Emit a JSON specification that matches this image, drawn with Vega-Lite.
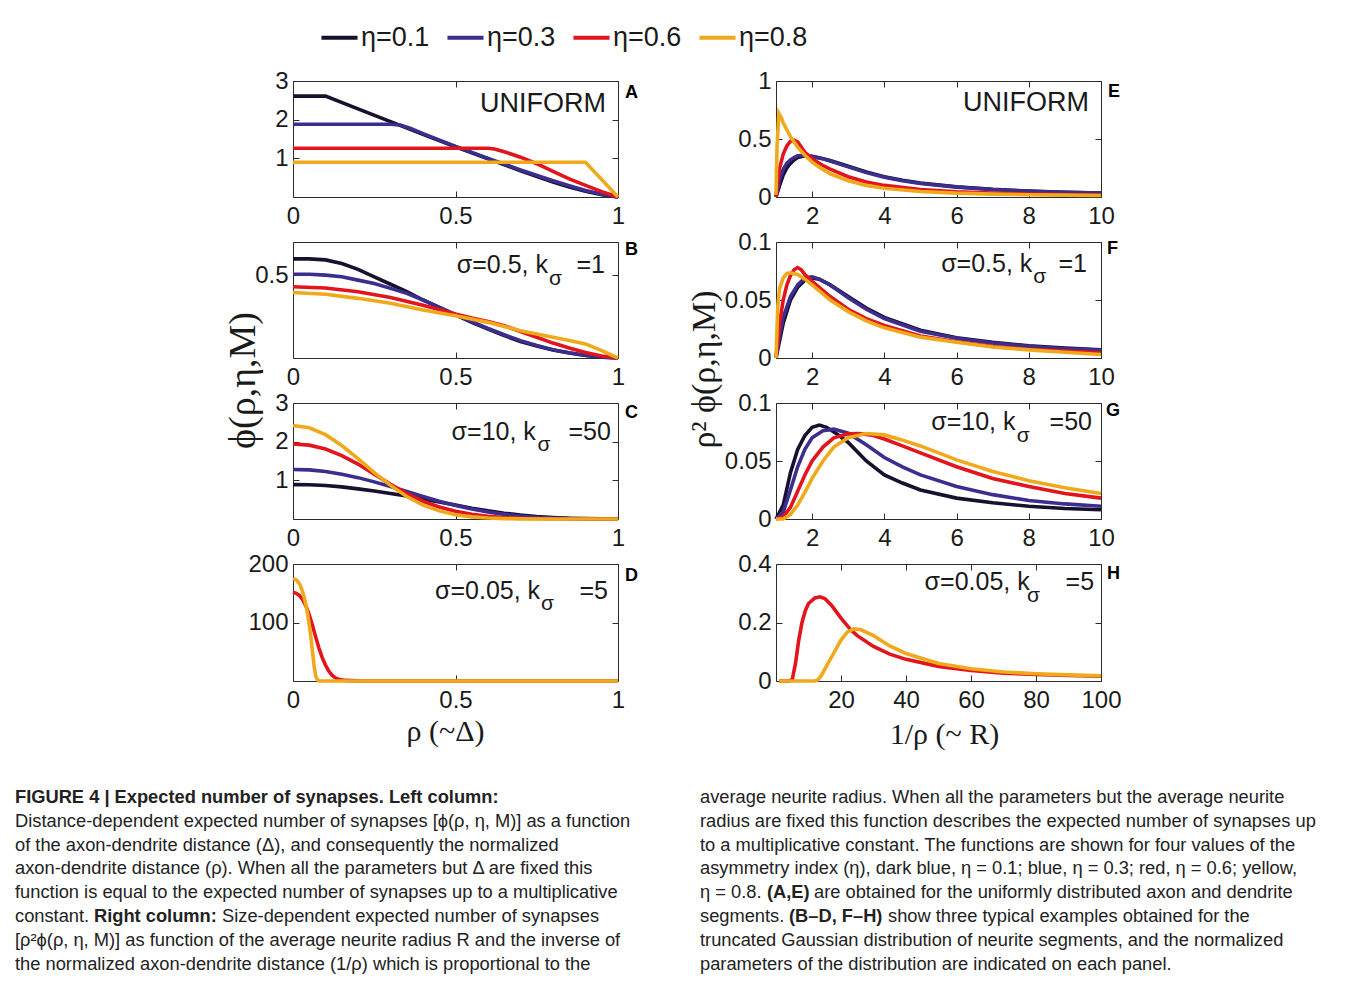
{
  "$schema": "https://vega.github.io/schema/vega-lite/v6.json",
  "background": "white",
  "padding": {"left": 15, "top": 17, "right": 5, "bottom": 5},
  "datasets": {
    "A": [
      {"eta":"η=0.1","x":0,"y":2.61},{"eta":"η=0.1","x":0.1,"y":2.61},{"eta":"η=0.1","x":0.2,"y":2.28},{"eta":"η=0.1","x":0.3,"y":1.95},{"eta":"η=0.1","x":0.4,"y":1.62},{"eta":"η=0.1","x":0.5,"y":1.3},{"eta":"η=0.1","x":0.6,"y":0.99},{"eta":"η=0.1","x":0.7,"y":0.68},{"eta":"η=0.1","x":0.8,"y":0.39},{"eta":"η=0.1","x":0.85,"y":0.26},{"eta":"η=0.1","x":0.9,"y":0.15},{"eta":"η=0.1","x":0.95,"y":0.06},{"eta":"η=0.1","x":1,"y":0},
      {"eta":"η=0.3","x":0,"y":1.88},{"eta":"η=0.3","x":0.3,"y":1.88},{"eta":"η=0.3","x":0.33,"y":1.86},{"eta":"η=0.3","x":0.36,"y":1.78},{"eta":"η=0.3","x":0.4,"y":1.64},{"eta":"η=0.3","x":0.5,"y":1.31},{"eta":"η=0.3","x":0.6,"y":1.0},{"eta":"η=0.3","x":0.7,"y":0.7},{"eta":"η=0.3","x":0.8,"y":0.42},{"eta":"η=0.3","x":0.85,"y":0.29},{"eta":"η=0.3","x":0.9,"y":0.17},{"eta":"η=0.3","x":0.95,"y":0.07},{"eta":"η=0.3","x":1,"y":0},
      {"eta":"η=0.6","x":0,"y":1.26},{"eta":"η=0.6","x":0.6,"y":1.26},{"eta":"η=0.6","x":0.62,"y":1.24},{"eta":"η=0.6","x":0.65,"y":1.17},{"eta":"η=0.6","x":0.7,"y":1.03},{"eta":"η=0.6","x":0.75,"y":0.86},{"eta":"η=0.6","x":0.8,"y":0.66},{"eta":"η=0.6","x":0.85,"y":0.47},{"eta":"η=0.6","x":0.9,"y":0.3},{"eta":"η=0.6","x":0.95,"y":0.14},{"eta":"η=0.6","x":1,"y":0},
      {"eta":"η=0.8","x":0,"y":0.9},{"eta":"η=0.8","x":0.9,"y":0.9},{"eta":"η=0.8","x":1,"y":0}
    ],
    "B": [
      {"eta":"η=0.1","x":0,"y":0.598},{"eta":"η=0.1","x":0.05,"y":0.598},{"eta":"η=0.1","x":0.1,"y":0.592},{"eta":"η=0.1","x":0.15,"y":0.57},{"eta":"η=0.1","x":0.2,"y":0.535},{"eta":"η=0.1","x":0.25,"y":0.49},{"eta":"η=0.1","x":0.3,"y":0.445},{"eta":"η=0.1","x":0.35,"y":0.4},{"eta":"η=0.1","x":0.4,"y":0.35},{"eta":"η=0.1","x":0.45,"y":0.305},{"eta":"η=0.1","x":0.5,"y":0.26},{"eta":"η=0.1","x":0.55,"y":0.215},{"eta":"η=0.1","x":0.6,"y":0.175},{"eta":"η=0.1","x":0.65,"y":0.135},{"eta":"η=0.1","x":0.7,"y":0.1},{"eta":"η=0.1","x":0.75,"y":0.072},{"eta":"η=0.1","x":0.8,"y":0.048},{"eta":"η=0.1","x":0.85,"y":0.03},{"eta":"η=0.1","x":0.9,"y":0.015},{"eta":"η=0.1","x":0.95,"y":0.005},{"eta":"η=0.1","x":1,"y":0},
      {"eta":"η=0.3","x":0,"y":0.505},{"eta":"η=0.3","x":0.05,"y":0.505},{"eta":"η=0.3","x":0.1,"y":0.5},{"eta":"η=0.3","x":0.15,"y":0.49},{"eta":"η=0.3","x":0.2,"y":0.47},{"eta":"η=0.3","x":0.25,"y":0.45},{"eta":"η=0.3","x":0.3,"y":0.42},{"eta":"η=0.3","x":0.35,"y":0.39},{"eta":"η=0.3","x":0.4,"y":0.35},{"eta":"η=0.3","x":0.45,"y":0.305},{"eta":"η=0.3","x":0.5,"y":0.262},{"eta":"η=0.3","x":0.55,"y":0.22},{"eta":"η=0.3","x":0.6,"y":0.178},{"eta":"η=0.3","x":0.65,"y":0.14},{"eta":"η=0.3","x":0.7,"y":0.105},{"eta":"η=0.3","x":0.75,"y":0.075},{"eta":"η=0.3","x":0.8,"y":0.05},{"eta":"η=0.3","x":0.85,"y":0.032},{"eta":"η=0.3","x":0.9,"y":0.017},{"eta":"η=0.3","x":0.95,"y":0.006},{"eta":"η=0.3","x":1,"y":0},
      {"eta":"η=0.6","x":0,"y":0.43},{"eta":"η=0.6","x":0.1,"y":0.422},{"eta":"η=0.6","x":0.2,"y":0.4},{"eta":"η=0.6","x":0.3,"y":0.365},{"eta":"η=0.6","x":0.4,"y":0.318},{"eta":"η=0.6","x":0.5,"y":0.265},{"eta":"η=0.6","x":0.55,"y":0.242},{"eta":"η=0.6","x":0.6,"y":0.22},{"eta":"η=0.6","x":0.65,"y":0.195},{"eta":"η=0.6","x":0.7,"y":0.16},{"eta":"η=0.6","x":0.75,"y":0.125},{"eta":"η=0.6","x":0.8,"y":0.09},{"eta":"η=0.6","x":0.85,"y":0.06},{"eta":"η=0.6","x":0.9,"y":0.033},{"eta":"η=0.6","x":0.95,"y":0.012},{"eta":"η=0.6","x":1,"y":0},
      {"eta":"η=0.8","x":0,"y":0.395},{"eta":"η=0.8","x":0.1,"y":0.385},{"eta":"η=0.8","x":0.2,"y":0.36},{"eta":"η=0.8","x":0.3,"y":0.33},{"eta":"η=0.8","x":0.4,"y":0.29},{"eta":"η=0.8","x":0.5,"y":0.255},{"eta":"η=0.8","x":0.6,"y":0.215},{"eta":"η=0.8","x":0.65,"y":0.19},{"eta":"η=0.8","x":0.7,"y":0.165},{"eta":"η=0.8","x":0.75,"y":0.145},{"eta":"η=0.8","x":0.8,"y":0.125},{"eta":"η=0.8","x":0.85,"y":0.105},{"eta":"η=0.8","x":0.9,"y":0.085},{"eta":"η=0.8","x":0.95,"y":0.045},{"eta":"η=0.8","x":1,"y":0}
    ],
    "C": [
      {"eta":"η=0.1","x":0,"y":0.89},{"eta":"η=0.1","x":0.05,"y":0.885},{"eta":"η=0.1","x":0.1,"y":0.865},{"eta":"η=0.1","x":0.15,"y":0.83},{"eta":"η=0.1","x":0.2,"y":0.78},{"eta":"η=0.1","x":0.25,"y":0.725},{"eta":"η=0.1","x":0.3,"y":0.66},{"eta":"η=0.1","x":0.35,"y":0.595},{"eta":"η=0.1","x":0.4,"y":0.52},{"eta":"η=0.1","x":0.45,"y":0.44},{"eta":"η=0.1","x":0.5,"y":0.36},{"eta":"η=0.1","x":0.55,"y":0.28},{"eta":"η=0.1","x":0.6,"y":0.21},{"eta":"η=0.1","x":0.65,"y":0.15},{"eta":"η=0.1","x":0.7,"y":0.1},{"eta":"η=0.1","x":0.75,"y":0.065},{"eta":"η=0.1","x":0.8,"y":0.04},{"eta":"η=0.1","x":0.85,"y":0.02},{"eta":"η=0.1","x":0.9,"y":0.01},{"eta":"η=0.1","x":1,"y":0},
      {"eta":"η=0.3","x":0,"y":1.28},{"eta":"η=0.3","x":0.05,"y":1.27},{"eta":"η=0.3","x":0.1,"y":1.23},{"eta":"η=0.3","x":0.15,"y":1.16},{"eta":"η=0.3","x":0.2,"y":1.07},{"eta":"η=0.3","x":0.25,"y":0.96},{"eta":"η=0.3","x":0.3,"y":0.84},{"eta":"η=0.3","x":0.35,"y":0.71},{"eta":"η=0.3","x":0.4,"y":0.58},{"eta":"η=0.3","x":0.45,"y":0.46},{"eta":"η=0.3","x":0.5,"y":0.35},{"eta":"η=0.3","x":0.55,"y":0.26},{"eta":"η=0.3","x":0.6,"y":0.18},{"eta":"η=0.3","x":0.65,"y":0.12},{"eta":"η=0.3","x":0.7,"y":0.075},{"eta":"η=0.3","x":0.75,"y":0.045},{"eta":"η=0.3","x":0.8,"y":0.025},{"eta":"η=0.3","x":0.9,"y":0.008},{"eta":"η=0.3","x":1,"y":0},
      {"eta":"η=0.6","x":0,"y":1.94},{"eta":"η=0.6","x":0.05,"y":1.91},{"eta":"η=0.6","x":0.1,"y":1.81},{"eta":"η=0.6","x":0.15,"y":1.64},{"eta":"η=0.6","x":0.2,"y":1.42},{"eta":"η=0.6","x":0.25,"y":1.16},{"eta":"η=0.6","x":0.3,"y":0.9},{"eta":"η=0.6","x":0.35,"y":0.66},{"eta":"η=0.6","x":0.4,"y":0.46},{"eta":"η=0.6","x":0.45,"y":0.31},{"eta":"η=0.6","x":0.5,"y":0.2},{"eta":"η=0.6","x":0.55,"y":0.12},{"eta":"η=0.6","x":0.6,"y":0.07},{"eta":"η=0.6","x":0.65,"y":0.04},{"eta":"η=0.6","x":0.7,"y":0.02},{"eta":"η=0.6","x":0.8,"y":0.005},{"eta":"η=0.6","x":1,"y":0},
      {"eta":"η=0.8","x":0,"y":2.42},{"eta":"η=0.8","x":0.05,"y":2.36},{"eta":"η=0.8","x":0.1,"y":2.18},{"eta":"η=0.8","x":0.15,"y":1.9},{"eta":"η=0.8","x":0.2,"y":1.56},{"eta":"η=0.8","x":0.25,"y":1.2},{"eta":"η=0.8","x":0.3,"y":0.87},{"eta":"η=0.8","x":0.35,"y":0.58},{"eta":"η=0.8","x":0.4,"y":0.36},{"eta":"η=0.8","x":0.45,"y":0.21},{"eta":"η=0.8","x":0.5,"y":0.11},{"eta":"η=0.8","x":0.55,"y":0.055},{"eta":"η=0.8","x":0.6,"y":0.025},{"eta":"η=0.8","x":0.65,"y":0.01},{"eta":"η=0.8","x":0.7,"y":0.004},{"eta":"η=0.8","x":0.8,"y":0},{"eta":"η=0.8","x":1,"y":0}
    ],
    "D": [
      {"eta":"η=0.6","x":0,"y":152},{"eta":"η=0.6","x":0.01,"y":150},{"eta":"η=0.6","x":0.02,"y":146},{"eta":"η=0.6","x":0.03,"y":139},{"eta":"η=0.6","x":0.04,"y":128},{"eta":"η=0.6","x":0.05,"y":113},{"eta":"η=0.6","x":0.06,"y":95},{"eta":"η=0.6","x":0.07,"y":75},{"eta":"η=0.6","x":0.08,"y":56},{"eta":"η=0.6","x":0.09,"y":40},{"eta":"η=0.6","x":0.1,"y":27},{"eta":"η=0.6","x":0.11,"y":17},{"eta":"η=0.6","x":0.12,"y":10},{"eta":"η=0.6","x":0.13,"y":5.5},{"eta":"η=0.6","x":0.14,"y":3},{"eta":"η=0.6","x":0.16,"y":1},{"eta":"η=0.6","x":0.2,"y":0.2},{"eta":"η=0.6","x":0.3,"y":0},{"eta":"η=0.6","x":1,"y":0},
      {"eta":"η=0.8","x":0,"y":175},{"eta":"η=0.8","x":0.01,"y":173},{"eta":"η=0.8","x":0.02,"y":166},{"eta":"η=0.8","x":0.03,"y":152},{"eta":"η=0.8","x":0.04,"y":130},{"eta":"η=0.8","x":0.045,"y":114},{"eta":"η=0.8","x":0.05,"y":96},{"eta":"η=0.8","x":0.055,"y":75},{"eta":"η=0.8","x":0.06,"y":50},{"eta":"η=0.8","x":0.065,"y":25},{"eta":"η=0.8","x":0.07,"y":8},{"eta":"η=0.8","x":0.075,"y":2},{"eta":"η=0.8","x":0.08,"y":0},{"eta":"η=0.8","x":1,"y":0}
    ],
    "E": [
      {"eta":"η=0.1","x":1,"y":0},{"eta":"η=0.1","x":1.1,"y":0.1},{"eta":"η=0.1","x":1.2,"y":0.19},{"eta":"η=0.1","x":1.3,"y":0.25},{"eta":"η=0.1","x":1.4,"y":0.29},{"eta":"η=0.1","x":1.5,"y":0.32},{"eta":"η=0.1","x":1.6,"y":0.34},{"eta":"η=0.1","x":1.8,"y":0.355},{"eta":"η=0.1","x":2,"y":0.35},{"eta":"η=0.1","x":2.25,"y":0.335},{"eta":"η=0.1","x":2.5,"y":0.315},{"eta":"η=0.1","x":3,"y":0.265},{"eta":"η=0.1","x":3.5,"y":0.215},{"eta":"η=0.1","x":4,"y":0.175},{"eta":"η=0.1","x":4.5,"y":0.145},{"eta":"η=0.1","x":5,"y":0.12},{"eta":"η=0.1","x":6,"y":0.088},{"eta":"η=0.1","x":7,"y":0.066},{"eta":"η=0.1","x":8,"y":0.051},{"eta":"η=0.1","x":9,"y":0.041},{"eta":"η=0.1","x":10,"y":0.034},
      {"eta":"η=0.3","x":1,"y":0},{"eta":"η=0.3","x":1.1,"y":0.15},{"eta":"η=0.3","x":1.2,"y":0.24},{"eta":"η=0.3","x":1.3,"y":0.29},{"eta":"η=0.3","x":1.4,"y":0.32},{"eta":"η=0.3","x":1.5,"y":0.34},{"eta":"η=0.3","x":1.6,"y":0.355},{"eta":"η=0.3","x":1.8,"y":0.36},{"eta":"η=0.3","x":2,"y":0.35},{"eta":"η=0.3","x":2.25,"y":0.333},{"eta":"η=0.3","x":2.5,"y":0.31},{"eta":"η=0.3","x":3,"y":0.26},{"eta":"η=0.3","x":3.5,"y":0.21},{"eta":"η=0.3","x":4,"y":0.17},{"eta":"η=0.3","x":4.5,"y":0.14},{"eta":"η=0.3","x":5,"y":0.117},{"eta":"η=0.3","x":6,"y":0.085},{"eta":"η=0.3","x":7,"y":0.064},{"eta":"η=0.3","x":8,"y":0.05},{"eta":"η=0.3","x":9,"y":0.04},{"eta":"η=0.3","x":10,"y":0.033},
      {"eta":"η=0.6","x":1,"y":0},{"eta":"η=0.6","x":1.05,"y":0.15},{"eta":"η=0.6","x":1.1,"y":0.25},{"eta":"η=0.6","x":1.2,"y":0.37},{"eta":"η=0.6","x":1.3,"y":0.44},{"eta":"η=0.6","x":1.4,"y":0.48},{"eta":"η=0.6","x":1.5,"y":0.49},{"eta":"η=0.6","x":1.6,"y":0.475},{"eta":"η=0.6","x":1.7,"y":0.43},{"eta":"η=0.6","x":1.8,"y":0.385},{"eta":"η=0.6","x":2,"y":0.33},{"eta":"η=0.6","x":2.25,"y":0.28},{"eta":"η=0.6","x":2.5,"y":0.24},{"eta":"η=0.6","x":3,"y":0.175},{"eta":"η=0.6","x":3.5,"y":0.13},{"eta":"η=0.6","x":4,"y":0.1},{"eta":"η=0.6","x":5,"y":0.065},{"eta":"η=0.6","x":6,"y":0.045},{"eta":"η=0.6","x":7,"y":0.034},{"eta":"η=0.6","x":8,"y":0.026},{"eta":"η=0.6","x":9,"y":0.021},{"eta":"η=0.6","x":10,"y":0.017},
      {"eta":"η=0.8","x":1,"y":0.02},{"eta":"η=0.8","x":1.03,"y":0.45},{"eta":"η=0.8","x":1.08,"y":0.72},{"eta":"η=0.8","x":1.15,"y":0.68},{"eta":"η=0.8","x":1.2,"y":0.64},{"eta":"η=0.8","x":1.3,"y":0.58},{"eta":"η=0.8","x":1.4,"y":0.52},{"eta":"η=0.8","x":1.6,"y":0.43},{"eta":"η=0.8","x":1.8,"y":0.36},{"eta":"η=0.8","x":2,"y":0.3},{"eta":"η=0.8","x":2.25,"y":0.245},{"eta":"η=0.8","x":2.5,"y":0.2},{"eta":"η=0.8","x":3,"y":0.14},{"eta":"η=0.8","x":3.5,"y":0.1},{"eta":"η=0.8","x":4,"y":0.075},{"eta":"η=0.8","x":5,"y":0.048},{"eta":"η=0.8","x":6,"y":0.033},{"eta":"η=0.8","x":7,"y":0.025},{"eta":"η=0.8","x":8,"y":0.02},{"eta":"η=0.8","x":9,"y":0.016},{"eta":"η=0.8","x":10,"y":0.013}
    ],
    "F": [
      {"eta":"η=0.1","x":1,"y":0},{"eta":"η=0.1","x":1.1,"y":0.015},{"eta":"η=0.1","x":1.2,"y":0.03},{"eta":"η=0.1","x":1.4,"y":0.05},{"eta":"η=0.1","x":1.6,"y":0.061},{"eta":"η=0.1","x":1.8,"y":0.067},{"eta":"η=0.1","x":2,"y":0.069},{"eta":"η=0.1","x":2.2,"y":0.068},{"eta":"η=0.1","x":2.5,"y":0.063},{"eta":"η=0.1","x":3,"y":0.053},{"eta":"η=0.1","x":3.5,"y":0.043},{"eta":"η=0.1","x":4,"y":0.035},{"eta":"η=0.1","x":5,"y":0.024},{"eta":"η=0.1","x":6,"y":0.0175},{"eta":"η=0.1","x":7,"y":0.0135},{"eta":"η=0.1","x":8,"y":0.0105},{"eta":"η=0.1","x":9,"y":0.0085},{"eta":"η=0.1","x":10,"y":0.007},
      {"eta":"η=0.3","x":1,"y":0},{"eta":"η=0.3","x":1.1,"y":0.02},{"eta":"η=0.3","x":1.2,"y":0.035},{"eta":"η=0.3","x":1.4,"y":0.053},{"eta":"η=0.3","x":1.6,"y":0.063},{"eta":"η=0.3","x":1.8,"y":0.069},{"eta":"η=0.3","x":2,"y":0.07},{"eta":"η=0.3","x":2.2,"y":0.068},{"eta":"η=0.3","x":2.5,"y":0.063},{"eta":"η=0.3","x":3,"y":0.052},{"eta":"η=0.3","x":3.5,"y":0.042},{"eta":"η=0.3","x":4,"y":0.034},{"eta":"η=0.3","x":5,"y":0.023},{"eta":"η=0.3","x":6,"y":0.017},{"eta":"η=0.3","x":7,"y":0.013},{"eta":"η=0.3","x":8,"y":0.01},{"eta":"η=0.3","x":9,"y":0.008},{"eta":"η=0.3","x":10,"y":0.0068},
      {"eta":"η=0.6","x":1,"y":0},{"eta":"η=0.6","x":1.1,"y":0.03},{"eta":"η=0.6","x":1.2,"y":0.05},{"eta":"η=0.6","x":1.3,"y":0.063},{"eta":"η=0.6","x":1.4,"y":0.071},{"eta":"η=0.6","x":1.5,"y":0.076},{"eta":"η=0.6","x":1.6,"y":0.078},{"eta":"η=0.6","x":1.7,"y":0.076},{"eta":"η=0.6","x":1.8,"y":0.072},{"eta":"η=0.6","x":2,"y":0.066},{"eta":"η=0.6","x":2.5,"y":0.053},{"eta":"η=0.6","x":3,"y":0.042},{"eta":"η=0.6","x":3.5,"y":0.034},{"eta":"η=0.6","x":4,"y":0.028},{"eta":"η=0.6","x":5,"y":0.019},{"eta":"η=0.6","x":6,"y":0.014},{"eta":"η=0.6","x":7,"y":0.01},{"eta":"η=0.6","x":8,"y":0.0075},{"eta":"η=0.6","x":9,"y":0.006},{"eta":"η=0.6","x":10,"y":0.0045},
      {"eta":"η=0.8","x":1,"y":0},{"eta":"η=0.8","x":1.05,"y":0.045},{"eta":"η=0.8","x":1.1,"y":0.06},{"eta":"η=0.8","x":1.2,"y":0.069},{"eta":"η=0.8","x":1.3,"y":0.073},{"eta":"η=0.8","x":1.4,"y":0.0735},{"eta":"η=0.8","x":1.6,"y":0.072},{"eta":"η=0.8","x":1.8,"y":0.068},{"eta":"η=0.8","x":2,"y":0.063},{"eta":"η=0.8","x":2.5,"y":0.05},{"eta":"η=0.8","x":3,"y":0.04},{"eta":"η=0.8","x":3.5,"y":0.032},{"eta":"η=0.8","x":4,"y":0.026},{"eta":"η=0.8","x":5,"y":0.018},{"eta":"η=0.8","x":6,"y":0.0135},{"eta":"η=0.8","x":7,"y":0.0095},{"eta":"η=0.8","x":8,"y":0.007},{"eta":"η=0.8","x":9,"y":0.005},{"eta":"η=0.8","x":10,"y":0.003}
    ],
    "G": [
      {"eta":"η=0.1","x":1,"y":0},{"eta":"η=0.1","x":1.2,"y":0.012},{"eta":"η=0.1","x":1.4,"y":0.04},{"eta":"η=0.1","x":1.6,"y":0.06},{"eta":"η=0.1","x":1.8,"y":0.072},{"eta":"η=0.1","x":2,"y":0.079},{"eta":"η=0.1","x":2.2,"y":0.081},{"eta":"η=0.1","x":2.4,"y":0.079},{"eta":"η=0.1","x":2.7,"y":0.073},{"eta":"η=0.1","x":3,"y":0.066},{"eta":"η=0.1","x":3.5,"y":0.05},{"eta":"η=0.1","x":4,"y":0.038},{"eta":"η=0.1","x":4.5,"y":0.031},{"eta":"η=0.1","x":5,"y":0.025},{"eta":"η=0.1","x":6,"y":0.018},{"eta":"η=0.1","x":7,"y":0.014},{"eta":"η=0.1","x":8,"y":0.011},{"eta":"η=0.1","x":9,"y":0.009},{"eta":"η=0.1","x":10,"y":0.008},
      {"eta":"η=0.3","x":1,"y":0},{"eta":"η=0.3","x":1.2,"y":0.006},{"eta":"η=0.3","x":1.4,"y":0.025},{"eta":"η=0.3","x":1.6,"y":0.045},{"eta":"η=0.3","x":1.8,"y":0.06},{"eta":"η=0.3","x":2,"y":0.07},{"eta":"η=0.3","x":2.3,"y":0.076},{"eta":"η=0.3","x":2.6,"y":0.0775},{"eta":"η=0.3","x":3,"y":0.074},{"eta":"η=0.3","x":3.5,"y":0.064},{"eta":"η=0.3","x":4,"y":0.053},{"eta":"η=0.3","x":4.5,"y":0.045},{"eta":"η=0.3","x":5,"y":0.038},{"eta":"η=0.3","x":6,"y":0.028},{"eta":"η=0.3","x":7,"y":0.021},{"eta":"η=0.3","x":8,"y":0.016},{"eta":"η=0.3","x":9,"y":0.013},{"eta":"η=0.3","x":10,"y":0.011},
      {"eta":"η=0.6","x":1,"y":0},{"eta":"η=0.6","x":1.2,"y":0.002},{"eta":"η=0.6","x":1.4,"y":0.01},{"eta":"η=0.6","x":1.6,"y":0.024},{"eta":"η=0.6","x":1.8,"y":0.038},{"eta":"η=0.6","x":2,"y":0.05},{"eta":"η=0.6","x":2.3,"y":0.062},{"eta":"η=0.6","x":2.6,"y":0.07},{"eta":"η=0.6","x":3,"y":0.0735},{"eta":"η=0.6","x":3.3,"y":0.0737},{"eta":"η=0.6","x":3.7,"y":0.072},{"eta":"η=0.6","x":4,"y":0.069},{"eta":"η=0.6","x":4.5,"y":0.063},{"eta":"η=0.6","x":5,"y":0.057},{"eta":"η=0.6","x":6,"y":0.045},{"eta":"η=0.6","x":7,"y":0.035},{"eta":"η=0.6","x":8,"y":0.028},{"eta":"η=0.6","x":9,"y":0.022},{"eta":"η=0.6","x":10,"y":0.018},
      {"eta":"η=0.8","x":1,"y":0},{"eta":"η=0.8","x":1.2,"y":0},{"eta":"η=0.8","x":1.4,"y":0.004},{"eta":"η=0.8","x":1.6,"y":0.012},{"eta":"η=0.8","x":1.8,"y":0.023},{"eta":"η=0.8","x":2,"y":0.035},{"eta":"η=0.8","x":2.3,"y":0.05},{"eta":"η=0.8","x":2.6,"y":0.062},{"eta":"η=0.8","x":3,"y":0.07},{"eta":"η=0.8","x":3.5,"y":0.0737},{"eta":"η=0.8","x":4,"y":0.0725},{"eta":"η=0.8","x":4.5,"y":0.068},{"eta":"η=0.8","x":5,"y":0.063},{"eta":"η=0.8","x":6,"y":0.051},{"eta":"η=0.8","x":7,"y":0.041},{"eta":"η=0.8","x":8,"y":0.033},{"eta":"η=0.8","x":9,"y":0.027},{"eta":"η=0.8","x":10,"y":0.022}
    ],
    "H": [
      {"eta":"η=0.6","x":1,"y":0},{"eta":"η=0.6","x":4,"y":0},{"eta":"η=0.6","x":5,"y":0.005},{"eta":"η=0.6","x":6,"y":0.06},{"eta":"η=0.6","x":7,"y":0.14},{"eta":"η=0.6","x":8,"y":0.2},{"eta":"η=0.6","x":9,"y":0.24},{"eta":"η=0.6","x":10,"y":0.265},{"eta":"η=0.6","x":12,"y":0.284},{"eta":"η=0.6","x":13.5,"y":0.288},{"eta":"η=0.6","x":15,"y":0.282},{"eta":"η=0.6","x":17,"y":0.26},{"eta":"η=0.6","x":20,"y":0.215},{"eta":"η=0.6","x":23,"y":0.175},{"eta":"η=0.6","x":25,"y":0.155},{"eta":"η=0.6","x":30,"y":0.118},{"eta":"η=0.6","x":35,"y":0.092},{"eta":"η=0.6","x":40,"y":0.074},{"eta":"η=0.6","x":50,"y":0.05},{"eta":"η=0.6","x":60,"y":0.036},{"eta":"η=0.6","x":70,"y":0.027},{"eta":"η=0.6","x":80,"y":0.022},{"eta":"η=0.6","x":90,"y":0.019},{"eta":"η=0.6","x":100,"y":0.016},
      {"eta":"η=0.8","x":1,"y":0},{"eta":"η=0.8","x":12,"y":0},{"eta":"η=0.8","x":13,"y":0.005},{"eta":"η=0.8","x":14,"y":0.02},{"eta":"η=0.8","x":16,"y":0.06},{"eta":"η=0.8","x":18,"y":0.1},{"eta":"η=0.8","x":20,"y":0.14},{"eta":"η=0.8","x":22,"y":0.168},{"eta":"η=0.8","x":24,"y":0.178},{"eta":"η=0.8","x":26,"y":0.176},{"eta":"η=0.8","x":30,"y":0.155},{"eta":"η=0.8","x":35,"y":0.12},{"eta":"η=0.8","x":40,"y":0.094},{"eta":"η=0.8","x":50,"y":0.06},{"eta":"η=0.8","x":60,"y":0.042},{"eta":"η=0.8","x":70,"y":0.031},{"eta":"η=0.8","x":80,"y":0.025},{"eta":"η=0.8","x":90,"y":0.021},{"eta":"η=0.8","x":100,"y":0.018}
    ],
    "caption": [
      {"col":"L","line":1,"frag":"A","text":"FIGURE 4 | Expected number of synapses. Left column:"},
      {"col":"L","line":2,"frag":"a","text":"Distance-dependent expected number of synapses [ϕ(ρ, η, M)] as a function"},
      {"col":"L","line":3,"frag":"a","text":"of the axon-dendrite distance (Δ), and consequently the normalized"},
      {"col":"L","line":4,"frag":"a","text":"axon-dendrite distance (ρ). When all the parameters but Δ are fixed this"},
      {"col":"L","line":5,"frag":"a","text":"function is equal to the expected number of synapses up to a multiplicative"},
      {"col":"L","line":6,"frag":"a","text":"constant."},
      {"col":"L","line":6,"frag":"L6b","text":"Right column:"},
      {"col":"L","line":6,"frag":"L6c","text":"Size-dependent expected number of synapses"},
      {"col":"L","line":7,"frag":"a","text":"[ρ²ϕ(ρ, η, M)] as function of the average neurite radius R and the inverse of"},
      {"col":"L","line":8,"frag":"a","text":"the normalized axon-dendrite distance (1/ρ) which is proportional to the"},
      {"col":"R","line":1,"frag":"a","text":"average neurite radius. When all the parameters but the average neurite"},
      {"col":"R","line":2,"frag":"a","text":"radius are fixed this function describes the expected number of synapses up"},
      {"col":"R","line":3,"frag":"a","text":"to a multiplicative constant. The functions are shown for four values of the"},
      {"col":"R","line":4,"frag":"a","text":"asymmetry index (η), dark blue, η = 0.1; blue, η = 0.3; red, η = 0.6; yellow,"},
      {"col":"R","line":5,"frag":"a","text":"η = 0.8."},
      {"col":"R","line":5,"frag":"R5b","text":"(A,E)"},
      {"col":"R","line":5,"frag":"R5c","text":"are obtained for the uniformly distributed axon and dendrite"},
      {"col":"R","line":6,"frag":"a","text":"segments."},
      {"col":"R","line":6,"frag":"R6b","text":"(B–D, F–H)"},
      {"col":"R","line":6,"frag":"R6c","text":"show three typical examples obtained for the"},
      {"col":"R","line":7,"frag":"a","text":"truncated Gaussian distribution of neurite segments, and the normalized"},
      {"col":"R","line":8,"frag":"a","text":"parameters of the distribution are indicated on each panel."}
    ]
  },
  "concat": [
    {
      "width": 325, "height": 116,
      "resolve": {"axis": {"x": "independent", "y": "independent"}},
      "layer": [
        {"data": {"name": "A"}, "mark": {"type": "line", "strokeWidth": 3.6},
         "encoding": {
           "x": {"field": "x", "type": "quantitative", "scale": {"domain": [0, 1]}, "axis": {"values": [0, 0.5, 1], "format": "~r", "title": null}},
           "y": {"field": "y", "type": "quantitative", "scale": {"domain": [0, 3]}, "axis": {"values": [1, 2, 3], "format": "~r", "title": null}},
           "color": {"field": "eta", "type": "nominal", "title": null, "scale": {"domain": ["η=0.1", "η=0.3", "η=0.6", "η=0.8"], "range": ["#17102f", "#3b2e8e", "#e3141c", "#efa91b"]}}}},
        {"data": {"values": [{"t": "A"}]}, "mark": {"type": "text", "align": "left", "baseline": "middle", "fontSize": 18, "fontWeight": "bold", "color": "#000"},
         "encoding": {"x": {"datum": 1.0215, "axis": {"orient": "top", "labels": false, "values": [0, 0.5, 1], "title": null}}, "y": {"datum": 2.69, "axis": {"orient": "right", "labels": false, "values": [1, 2, 3], "title": null}}, "text": {"field": "t"}}},
        {"data": {"values": [{"t": "UNIFORM"}]}, "mark": {"type": "text", "align": "right", "baseline": "middle", "fontSize": 27, "color": "#1a1a1a"},
         "encoding": {"x": {"datum": 0.963, "axis": null}, "y": {"datum": 2.405, "axis": null}, "text": {"field": "t"}}}
      ]
    },
    {
      "width": 325, "height": 116,
      "resolve": {"axis": {"x": "independent", "y": "independent"}},
      "layer": [
        {"data": {"name": "E"}, "mark": {"type": "line", "strokeWidth": 3.6},
         "encoding": {
           "x": {"field": "x", "type": "quantitative", "scale": {"domain": [1, 10], "zero": false}, "axis": {"values": [2, 4, 6, 8, 10], "format": "~r", "title": null}},
           "y": {"field": "y", "type": "quantitative", "scale": {"domain": [0, 1]}, "axis": {"values": [0, 0.5, 1], "format": "~r", "title": null}},
           "color": {"field": "eta", "type": "nominal", "title": null, "scale": {"domain": ["η=0.1", "η=0.3", "η=0.6", "η=0.8"], "range": ["#17102f", "#3b2e8e", "#e3141c", "#efa91b"]}}}},
        {"data": {"values": [{"t": "E"}]}, "mark": {"type": "text", "align": "left", "baseline": "middle", "fontSize": 18, "fontWeight": "bold", "color": "#000"},
         "encoding": {"x": {"datum": 10.193, "axis": {"orient": "top", "labels": false, "values": [2, 4, 6, 8, 10], "title": null}}, "y": {"datum": 0.905, "axis": {"orient": "right", "labels": false, "values": [0, 0.5, 1], "title": null}}, "text": {"field": "t"}}},
        {"data": {"values": [{"t": "UNIFORM"}]}, "mark": {"type": "text", "align": "right", "baseline": "middle", "fontSize": 27, "color": "#1a1a1a"},
         "encoding": {"x": {"datum": 9.669, "axis": null}, "y": {"datum": 0.808, "axis": null}, "text": {"field": "t"}}}
      ]
    },
    {
      "width": 325, "height": 116,
      "resolve": {"axis": {"x": "independent", "y": "independent"}},
      "layer": [
        {"data": {"name": "B"}, "mark": {"type": "line", "strokeWidth": 3.6},
         "encoding": {
           "x": {"field": "x", "type": "quantitative", "scale": {"domain": [0, 1]}, "axis": {"values": [0, 0.5, 1], "format": "~r", "title": null}},
           "y": {"field": "y", "type": "quantitative", "scale": {"domain": [0, 0.7]}, "axis": {"values": [0.5], "format": "~r", "title": null}},
           "color": {"field": "eta", "type": "nominal", "title": null, "scale": {"domain": ["η=0.1", "η=0.3", "η=0.6", "η=0.8"], "range": ["#17102f", "#3b2e8e", "#e3141c", "#efa91b"]}}}},
        {"data": {"values": [{"t": "B"}]}, "mark": {"type": "text", "align": "left", "baseline": "middle", "fontSize": 18, "fontWeight": "bold", "color": "#000"},
         "encoding": {"x": {"datum": 1.0215, "axis": {"orient": "top", "labels": false, "values": [0, 0.5, 1], "title": null}}, "y": {"datum": 0.652, "axis": {"orient": "right", "labels": false, "values": [0.5], "title": null}}, "text": {"field": "t"}}},
        {"data": {"values": [{"t": "σ=0.5, k"}]}, "mark": {"type": "text", "align": "left", "baseline": "middle", "fontSize": 25, "color": "#1a1a1a"},
         "encoding": {"x": {"datum": 0.504, "axis": null}, "y": {"datum": 0.559, "axis": null}, "text": {"field": "t"}}},
        {"data": {"values": [{"t": "σ"}]}, "mark": {"type": "text", "align": "left", "baseline": "middle", "fontSize": 21, "color": "#1a1a1a"},
         "encoding": {"x": {"datum": 0.788, "axis": null}, "y": {"datum": 0.4786, "axis": null}, "text": {"field": "t"}}},
        {"data": {"values": [{"t": "=1"}]}, "mark": {"type": "text", "align": "right", "baseline": "middle", "fontSize": 25, "color": "#1a1a1a"},
         "encoding": {"x": {"datum": 0.96, "axis": null}, "y": {"datum": 0.559, "axis": null}, "text": {"field": "t"}}}
      ]
    },
    {
      "width": 325, "height": 116,
      "resolve": {"axis": {"x": "independent", "y": "independent"}},
      "layer": [
        {"data": {"name": "F"}, "mark": {"type": "line", "strokeWidth": 3.6},
         "encoding": {
           "x": {"field": "x", "type": "quantitative", "scale": {"domain": [1, 10], "zero": false}, "axis": {"values": [2, 4, 6, 8, 10], "format": "~r", "title": null}},
           "y": {"field": "y", "type": "quantitative", "scale": {"domain": [0, 0.1]}, "axis": {"values": [0, 0.05, 0.1], "format": "~r", "title": null}},
           "color": {"field": "eta", "type": "nominal", "title": null, "scale": {"domain": ["η=0.1", "η=0.3", "η=0.6", "η=0.8"], "range": ["#17102f", "#3b2e8e", "#e3141c", "#efa91b"]}}}},
        {"data": {"values": [{"t": "F"}]}, "mark": {"type": "text", "align": "left", "baseline": "middle", "fontSize": 18, "fontWeight": "bold", "color": "#000"},
         "encoding": {"x": {"datum": 10.166, "axis": {"orient": "top", "labels": false, "values": [2, 4, 6, 8, 10], "title": null}}, "y": {"datum": 0.094, "axis": {"orient": "right", "labels": false, "values": [0, 0.05, 0.1], "title": null}}, "text": {"field": "t"}}},
        {"data": {"values": [{"t": "σ=0.5, k"}]}, "mark": {"type": "text", "align": "left", "baseline": "middle", "fontSize": 25, "color": "#1a1a1a"},
         "encoding": {"x": {"datum": 5.574, "axis": null}, "y": {"datum": 0.0813, "axis": null}, "text": {"field": "t"}}},
        {"data": {"values": [{"t": "σ"}]}, "mark": {"type": "text", "align": "left", "baseline": "middle", "fontSize": 21, "color": "#1a1a1a"},
         "encoding": {"x": {"datum": 8.123, "axis": null}, "y": {"datum": 0.0698, "axis": null}, "text": {"field": "t"}}},
        {"data": {"values": [{"t": "=1"}]}, "mark": {"type": "text", "align": "right", "baseline": "middle", "fontSize": 25, "color": "#1a1a1a"},
         "encoding": {"x": {"datum": 9.613, "axis": null}, "y": {"datum": 0.0813, "axis": null}, "text": {"field": "t"}}}
      ]
    },
    {
      "width": 325, "height": 116,
      "resolve": {"axis": {"x": "independent", "y": "independent"}},
      "layer": [
        {"data": {"name": "C"}, "mark": {"type": "line", "strokeWidth": 3.6},
         "encoding": {
           "x": {"field": "x", "type": "quantitative", "scale": {"domain": [0, 1]}, "axis": {"values": [0, 0.5, 1], "format": "~r", "title": null}},
           "y": {"field": "y", "type": "quantitative", "scale": {"domain": [0, 3]}, "axis": {"values": [1, 2, 3], "format": "~r", "title": "ϕ(ρ,η,M)", "titleX": -50, "titleY": -23, "titleBaseline": "middle", "titleAlign": "center", "titleAngle": -90, "titleFontSize": 38}},
           "color": {"field": "eta", "type": "nominal", "title": null, "scale": {"domain": ["η=0.1", "η=0.3", "η=0.6", "η=0.8"], "range": ["#17102f", "#3b2e8e", "#e3141c", "#efa91b"]}}}},
        {"data": {"values": [{"t": "C"}]}, "mark": {"type": "text", "align": "left", "baseline": "middle", "fontSize": 18, "fontWeight": "bold", "color": "#000"},
         "encoding": {"x": {"datum": 1.0215, "axis": {"orient": "top", "labels": false, "values": [0, 0.5, 1], "title": null}}, "y": {"datum": 2.754, "axis": {"orient": "right", "labels": false, "values": [1, 2, 3], "title": null}}, "text": {"field": "t"}}},
        {"data": {"values": [{"t": "σ=10, k"}]}, "mark": {"type": "text", "align": "left", "baseline": "middle", "fontSize": 25, "color": "#1a1a1a"},
         "encoding": {"x": {"datum": 0.488, "axis": null}, "y": {"datum": 2.262, "axis": null}, "text": {"field": "t"}}},
        {"data": {"values": [{"t": "σ"}]}, "mark": {"type": "text", "align": "left", "baseline": "middle", "fontSize": 21, "color": "#1a1a1a"},
         "encoding": {"x": {"datum": 0.752, "axis": null}, "y": {"datum": 1.915, "axis": null}, "text": {"field": "t"}}},
        {"data": {"values": [{"t": "=50"}]}, "mark": {"type": "text", "align": "right", "baseline": "middle", "fontSize": 25, "color": "#1a1a1a"},
         "encoding": {"x": {"datum": 0.978, "axis": null}, "y": {"datum": 2.262, "axis": null}, "text": {"field": "t"}}}
      ]
    },
    {
      "width": 325, "height": 116,
      "resolve": {"axis": {"x": "independent", "y": "independent"}},
      "layer": [
        {"data": {"name": "G"}, "mark": {"type": "line", "strokeWidth": 3.6},
         "encoding": {
           "x": {"field": "x", "type": "quantitative", "scale": {"domain": [1, 10], "zero": false}, "axis": {"values": [2, 4, 6, 8, 10], "format": "~r", "title": null}},
           "y": {"field": "y", "type": "quantitative", "scale": {"domain": [0, 0.1]}, "axis": {"values": [0, 0.05, 0.1], "format": "~r", "title": "ρ² ϕ(ρ,η,M)", "titleX": -72, "titleY": -34, "titleBaseline": "middle", "titleAlign": "center", "titleAngle": -90, "titleFontSize": 34}},
           "color": {"field": "eta", "type": "nominal", "title": null, "scale": {"domain": ["η=0.1", "η=0.3", "η=0.6", "η=0.8"], "range": ["#17102f", "#3b2e8e", "#e3141c", "#efa91b"]}}}},
        {"data": {"values": [{"t": "G"}]}, "mark": {"type": "text", "align": "left", "baseline": "middle", "fontSize": 18, "fontWeight": "bold", "color": "#000"},
         "encoding": {"x": {"datum": 10.138, "axis": {"orient": "top", "labels": false, "values": [2, 4, 6, 8, 10], "title": null}}, "y": {"datum": 0.0933, "axis": {"orient": "right", "labels": false, "values": [0, 0.05, 0.1], "title": null}}, "text": {"field": "t"}}},
        {"data": {"values": [{"t": "σ=10, k"}]}, "mark": {"type": "text", "align": "left", "baseline": "middle", "fontSize": 25, "color": "#1a1a1a"},
         "encoding": {"x": {"datum": 5.298, "axis": null}, "y": {"datum": 0.0833, "axis": null}, "text": {"field": "t"}}},
        {"data": {"values": [{"t": "σ"}]}, "mark": {"type": "text", "align": "left", "baseline": "middle", "fontSize": 21, "color": "#1a1a1a"},
         "encoding": {"x": {"datum": 7.664, "axis": null}, "y": {"datum": 0.0716, "axis": null}, "text": {"field": "t"}}},
        {"data": {"values": [{"t": "=50"}]}, "mark": {"type": "text", "align": "right", "baseline": "middle", "fontSize": 25, "color": "#1a1a1a"},
         "encoding": {"x": {"datum": 9.751, "axis": null}, "y": {"datum": 0.0833, "axis": null}, "text": {"field": "t"}}}
      ]
    },
    {
      "width": 325, "height": 117,
      "resolve": {"axis": {"x": "independent", "y": "independent"}},
      "layer": [
        {"data": {"name": "D"}, "mark": {"type": "line", "strokeWidth": 3.6},
         "encoding": {
           "x": {"field": "x", "type": "quantitative", "scale": {"domain": [0, 1]}, "axis": {"values": [0, 0.5, 1], "format": "~r", "title": "ρ (~Δ)", "titleX": 152, "titleY": 50, "titleBaseline": "middle", "titleFontSize": 30}},
           "y": {"field": "y", "type": "quantitative", "scale": {"domain": [0, 200]}, "axis": {"values": [100, 200], "format": "~r", "title": null}},
           "color": {"field": "eta", "type": "nominal", "title": null, "scale": {"domain": ["η=0.1", "η=0.3", "η=0.6", "η=0.8"], "range": ["#17102f", "#3b2e8e", "#e3141c", "#efa91b"]}}}},
        {"data": {"values": [{"t": "D"}]}, "mark": {"type": "text", "align": "left", "baseline": "middle", "fontSize": 18, "fontWeight": "bold", "color": "#000"},
         "encoding": {"x": {"datum": 1.0215, "axis": {"orient": "top", "labels": false, "values": [0, 0.5, 1], "title": null}}, "y": {"datum": 179.5, "axis": {"orient": "right", "labels": false, "values": [100, 200], "title": null}}, "text": {"field": "t"}}},
        {"data": {"values": [{"t": "σ=0.05, k"}]}, "mark": {"type": "text", "align": "left", "baseline": "middle", "fontSize": 25, "color": "#1a1a1a"},
         "encoding": {"x": {"datum": 0.437, "axis": null}, "y": {"datum": 154.4, "axis": null}, "text": {"field": "t"}}},
        {"data": {"values": [{"t": "σ"}]}, "mark": {"type": "text", "align": "left", "baseline": "middle", "fontSize": 21, "color": "#1a1a1a"},
         "encoding": {"x": {"datum": 0.763, "axis": null}, "y": {"datum": 131.6, "axis": null}, "text": {"field": "t"}}},
        {"data": {"values": [{"t": "=5"}]}, "mark": {"type": "text", "align": "right", "baseline": "middle", "fontSize": 25, "color": "#1a1a1a"},
         "encoding": {"x": {"datum": 0.969, "axis": null}, "y": {"datum": 154.4, "axis": null}, "text": {"field": "t"}}}
      ]
    },
    {
      "width": 325, "height": 117,
      "resolve": {"axis": {"x": "independent", "y": "independent"}},
      "layer": [
        {"data": {"name": "H"}, "mark": {"type": "line", "strokeWidth": 3.6},
         "encoding": {
           "x": {"field": "x", "type": "quantitative", "scale": {"domain": [1, 100], "zero": false}, "axis": {"values": [20, 40, 60, 80, 100], "format": "~r", "title": "1/ρ (~ R)", "titleX": 168, "titleY": 53, "titleBaseline": "middle", "titleFontSize": 30}},
           "y": {"field": "y", "type": "quantitative", "scale": {"domain": [0, 0.4]}, "axis": {"values": [0, 0.2, 0.4], "format": "~r", "title": null}},
           "color": {"field": "eta", "type": "nominal", "title": null, "scale": {"domain": ["η=0.1", "η=0.3", "η=0.6", "η=0.8"], "range": ["#17102f", "#3b2e8e", "#e3141c", "#efa91b"]}}}},
        {"data": {"values": [{"t": "H"}]}, "mark": {"type": "text", "align": "left", "baseline": "middle", "fontSize": 18, "fontWeight": "bold", "color": "#000"},
         "encoding": {"x": {"datum": 101.82, "axis": {"orient": "top", "labels": false, "values": [20, 40, 60, 80, 100], "title": null}}, "y": {"datum": 0.366, "axis": {"orient": "right", "labels": false, "values": [0, 0.2, 0.4], "title": null}}, "text": {"field": "t"}}},
        {"data": {"values": [{"t": "σ=0.05, k"}]}, "mark": {"type": "text", "align": "left", "baseline": "middle", "fontSize": 25, "color": "#1a1a1a"},
         "encoding": {"x": {"datum": 45.73, "axis": null}, "y": {"datum": 0.3376, "axis": null}, "text": {"field": "t"}}},
        {"data": {"values": [{"t": "σ"}]}, "mark": {"type": "text", "align": "left", "baseline": "middle", "fontSize": 21, "color": "#1a1a1a"},
         "encoding": {"x": {"datum": 77.22, "axis": null}, "y": {"datum": 0.292, "axis": null}, "text": {"field": "t"}}},
        {"data": {"values": [{"t": "=5"}]}, "mark": {"type": "text", "align": "right", "baseline": "middle", "fontSize": 25, "color": "#1a1a1a"},
         "encoding": {"x": {"datum": 97.87, "axis": null}, "y": {"datum": 0.3376, "axis": null}, "text": {"field": "t"}}}
      ]
    },
    {
      "width": 325, "height": 240,
      "view": {"stroke": null},
      "data": {"name": "caption"},
      "transform": [{"filter": "datum.col == 'L'"}],
      "encoding": {
        "x": {"field": "col", "type": "nominal", "scale": {"type": "point", "domain": ["L", "R"], "range": [-278, 0], "padding": 0}, "axis": null},
        "y": {"field": "line", "type": "ordinal", "scale": {"type": "point", "domain": [1, 2, 3, 4, 5, 6, 7, 8], "range": [72, 238.6], "padding": 0}, "axis": null},
        "text": {"field": "text"}
      },
      "layer": [
        {"transform": [{"filter": "datum.frag == 'a'"}], "mark": {"type": "text", "align": "left", "baseline": "middle", "fontSize": 18.3, "color": "#222"}},
        {"transform": [{"filter": "datum.frag == 'A'"}], "mark": {"type": "text", "align": "left", "baseline": "middle", "fontSize": 18.3, "fontWeight": "bold", "color": "#222"}},
        {"transform": [{"filter": "datum.frag == 'L6b'"}], "mark": {"type": "text", "align": "left", "baseline": "middle", "fontSize": 18.3, "fontWeight": "bold", "color": "#222", "dx": 79}},
        {"transform": [{"filter": "datum.frag == 'L6c'"}], "mark": {"type": "text", "align": "left", "baseline": "middle", "fontSize": 18.3, "color": "#222", "dx": 207}}
      ]
    },
    {
      "width": 325, "height": 240,
      "view": {"stroke": null},
      "data": {"name": "caption"},
      "transform": [{"filter": "datum.col == 'R'"}],
      "encoding": {
        "x": {"field": "col", "type": "nominal", "scale": {"type": "point", "domain": ["L", "R"], "range": [-400, -76], "padding": 0}, "axis": null},
        "y": {"field": "line", "type": "ordinal", "scale": {"type": "point", "domain": [1, 2, 3, 4, 5, 6, 7, 8], "range": [72, 238.6], "padding": 0}, "axis": null},
        "text": {"field": "text"}
      },
      "layer": [
        {"transform": [{"filter": "datum.frag == 'a'"}], "mark": {"type": "text", "align": "left", "baseline": "middle", "fontSize": 18.3, "color": "#222"}},
        {"transform": [{"filter": "datum.frag == 'R5b'"}], "mark": {"type": "text", "align": "left", "baseline": "middle", "fontSize": 18.3, "fontWeight": "bold", "color": "#222", "dx": 67}},
        {"transform": [{"filter": "datum.frag == 'R5c'"}], "mark": {"type": "text", "align": "left", "baseline": "middle", "fontSize": 18.3, "color": "#222", "dx": 114}},
        {"transform": [{"filter": "datum.frag == 'R6b'"}], "mark": {"type": "text", "align": "left", "baseline": "middle", "fontSize": 18.3, "fontWeight": "bold", "color": "#222", "dx": 89}},
        {"transform": [{"filter": "datum.frag == 'R6c'"}], "mark": {"type": "text", "align": "left", "baseline": "middle", "fontSize": 18.3, "color": "#222", "dx": 188}}
      ]
    }
  ],
  "columns": 2,
  "spacing": {"row": 45, "column": 158},
  "bounds": "flush",
  "config": {
    "font": "Liberation Sans",
    "view": {"stroke": "#2b2b2b", "strokeWidth": 1},
    "axis": {"grid": false, "domain": false, "ticks": true, "tickSize": -6, "tickColor": "#2b2b2b", "tickWidth": 1, "labelFont": "Liberation Sans", "labelFontSize": 24, "labelColor": "#1a1a1a", "labelPadding": 13, "labelFlush": false, "labelOverlap": false, "titleFont": "Liberation Serif", "titleFontWeight": "normal", "titleColor": "#1a1a1a"},
    "axisY": {"labelPadding": 11},
    "legend": {"orient": "none", "legendX": 26, "legendY": -64, "direction": "horizontal", "symbolType": "stroke", "symbolSize": 1300, "symbolStrokeWidth": 4, "labelFontSize": 27, "labelFont": "Liberation Sans", "labelColor": "#1a1a1a", "labelOffset": 1, "columnPadding": 9, "padding": 0}
  }
}
